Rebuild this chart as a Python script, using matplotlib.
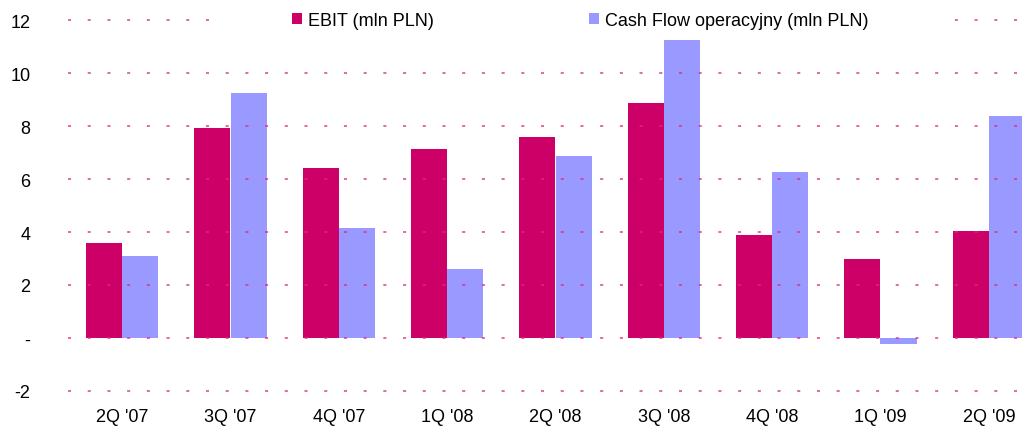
import matplotlib
matplotlib.use("Agg")
import matplotlib.pyplot as plt
from matplotlib.patches import Rectangle
import numpy as np

categories = ["2Q '07", "3Q '07", "4Q '07", "1Q '08", "2Q '08", "3Q '08", "4Q '08", "1Q '09", "2Q '09"]
ebit = [3.58, 7.93, 6.42, 7.13, 7.60, 8.85, 3.89, 2.98, 4.04]
cash_flow = [3.09, 9.23, 4.15, 2.60, 6.85, 11.26, 6.28, -0.23, 8.36]
yticks = [-2, 0, 2, 4, 6, 8, 10, 12]
ytick_labels = ["-2", "-", "2", "4", "6", "8", "10", "12"]

plt.rcParams['font.family'] = ['Liberation Sans', 'DejaVu Sans']

fig = plt.figure(figsize=(10.22, 4.27), dpi=100)
ax = fig.add_axes([68/1022, 35/427, 975/1022, 371/427])

x = np.arange(len(categories))
w = 0.335
ax.bar(x - w/2, ebit, w, color='#CC0066', label='EBIT (mln PLN)', zorder=2)
ax.bar(x + w/2, cash_flow, w, color='#9999FF', label='Cash Flow operacyjny (mln PLN)', zorder=2)

ax.set_xlim(-0.5, len(categories) - 0.5)
ax.set_ylim(-2, 12)
ax.set_yticks(yticks)
ax.set_yticklabels(ytick_labels, fontsize=13)
ax.set_xticks(x)
ax.set_xticklabels(categories, fontsize=13)
ax.tick_params(axis='both', length=0)
ax.tick_params(axis='y', pad=27)
ax.tick_params(axis='x', pad=12)
for s in ax.spines.values():
    s.set_visible(False)

for yv in yticks:
    ax.axhline(yv, color='#DC2A80', lw=1.1, dashes=(2.0, 10.9), alpha=0.9,
               zorder=3, clip_on=False)

# white legend background band covering the top gridline
fig.patches.append(Rectangle((212/1022, 1 - 32/427), (948-212)/1022, 24/427,
                             transform=fig.transFigure, facecolor='white',
                             edgecolor='none', zorder=5))

leg = fig.legend(loc='center left', bbox_to_anchor=(279/1022, 1 - 21/427), ncol=2,
                 frameon=False, fontsize=13, handlelength=0.55, handleheight=0.55,
                 handletextpad=0.35, columnspacing=8.6, borderpad=0.2)
leg.set_zorder(10)

fig.savefig('out.png', dpi=100)
